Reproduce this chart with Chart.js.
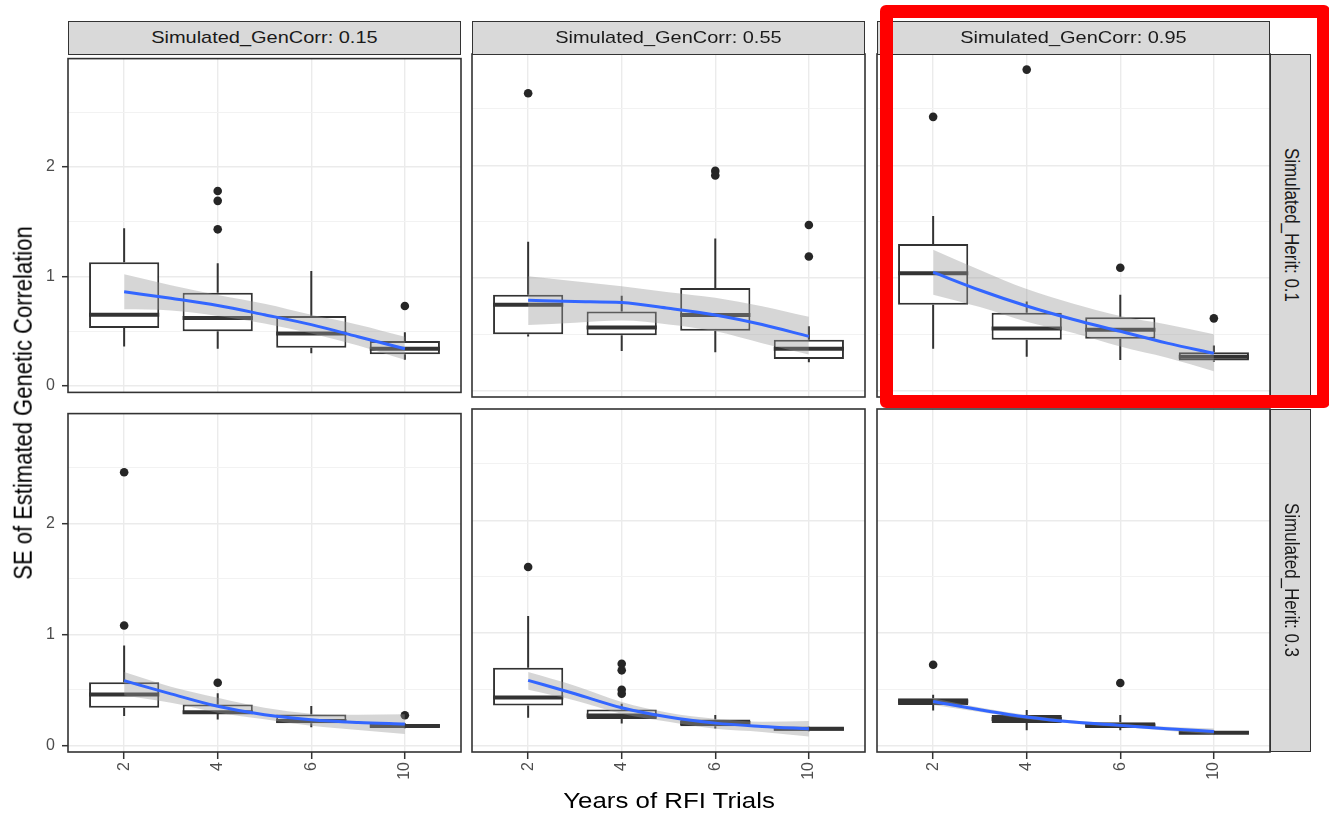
<!DOCTYPE html>
<html>
<head>
<meta charset="utf-8">
<title>SE of Estimated Genetic Correlation by Years of RFI Trials</title>
<script src="https://cdn.jsdelivr.net/npm/chart.js@4.4.1/dist/chart.umd.min.js"></script>
<style>
  html, body { margin: 0; padding: 0; background: #fff; }
  body { position: relative; width: 1329px; height: 817px; overflow: hidden;
         font-family: 'Liberation Sans', Arial, sans-serif; }
  canvas { position: absolute; }
  .strip { position: absolute; box-sizing: border-box; background: #D9D9D9;
           border: 1.4px solid #333; color: #1A1A1A; font-size: 17px;
           display: flex; align-items: center; justify-content: center; white-space: nowrap; }
  .strip span { display: inline-block; transform: scaleX(1.175); }
  .strip.side { writing-mode: vertical-rl; }
  .axis-title { position: absolute; font-size: 22px; color: #000; white-space: nowrap; }
  .highlight { position: absolute; box-sizing: border-box; border: 13px solid #FF0000; border-radius: 6px; }
</style>
</head>
<body>
<script>
// ---- data -------------------------------------------------------------
const yearLabels = ['2', '4', '6', '10'];
const genCorrLevels = ['0.15', '0.55', '0.95'];
const heritLevels = ['0.1', '0.3'];
const yTicks = [0, 0.5, 1, 1.5, 2, 2.5];

// Panels in row order: Herit 0.1 (GenCorr 0.15, 0.55, 0.95), then Herit 0.3 (same order).
// Each row holds one value per year group.
const whiskerLow = [
  [0.36, 0.34, 0.30, 0.24],
  [0.48, 0.35, 0.34, 0.25],
  [0.37, 0.30, 0.27, 0.255],
  [0.265, 0.235, 0.165, 0.155],
  [0.245, 0.195, 0.15, 0.125],
  [0.31, 0.135, 0.135, 0.10]
];
const boxLow = [
  [0.53, 0.50, 0.35, 0.29],
  [0.50, 0.49, 0.53, 0.28],
  [0.76, 0.45, 0.46, 0.265],
  [0.34, 0.285, 0.20, 0.165],
  [0.355, 0.235, 0.17, 0.13],
  [0.36, 0.20, 0.155, 0.105]
];
const medians = [
  [0.65, 0.62, 0.48, 0.34],
  [0.76, 0.56, 0.67, 0.37],
  [1.04, 0.55, 0.54, 0.30],
  [0.46, 0.30, 0.22, 0.175],
  [0.425, 0.265, 0.20, 0.148],
  [0.39, 0.235, 0.178, 0.113]
];
const boxHigh = [
  [1.13, 0.85, 0.64, 0.41],
  [0.85, 0.70, 0.91, 0.45],
  [1.30, 0.69, 0.65, 0.34],
  [0.57, 0.37, 0.28, 0.19],
  [0.69, 0.32, 0.23, 0.16],
  [0.42, 0.27, 0.205, 0.125]
];
const whiskerHigh = [
  [1.44, 1.12, 1.05, 0.49],
  [1.32, 0.84, 1.35, 0.57],
  [1.55, 0.79, 0.85, 0.40],
  [0.90, 0.47, 0.355, 0.20],
  [1.15, 0.37, 0.27, 0.165],
  [0.45, 0.315, 0.27, 0.13]
];
const outliers = [
  [[], [1.78, 1.69, 1.43], [], [0.73]],
  [[2.64], [], [1.95, 1.91], [1.47, 1.19]],
  [[2.43], [2.85], [1.09], [0.64]],
  [[2.46, 1.08], [0.565], [], [0.273]],
  [[1.585], [0.726, 0.667, 0.495, 0.459], [], []],
  [[0.717], [], [0.554], []]
];

// Smoothed trend with its confidence band, on the group axis (1 = first year group).
const smoothX = [1, 1.5, 2, 2.5, 3, 3.5, 4];
const smoothFit = [
  [0.86, 0.80, 0.735, 0.65, 0.56, 0.45, 0.34],
  [0.80, 0.79, 0.78, 0.73, 0.67, 0.585, 0.48],
  [1.05, 0.89, 0.75, 0.63, 0.525, 0.42, 0.33],
  [0.584, 0.465, 0.353, 0.276, 0.231, 0.207, 0.193],
  [0.578, 0.459, 0.335, 0.252, 0.198, 0.169, 0.148],
  [0.391, 0.317, 0.252, 0.207, 0.178, 0.148, 0.124]
];
const smoothLow = [
  [0.70, 0.69, 0.64, 0.57, 0.48, 0.37, 0.24],
  [0.58, 0.60, 0.62, 0.585, 0.525, 0.42, 0.32],
  [0.85, 0.74, 0.61, 0.51, 0.39, 0.29, 0.17],
  [0.45, 0.385, 0.296, 0.237, 0.178, 0.14, 0.104],
  [0.495, 0.40, 0.281, 0.21, 0.148, 0.12, 0.08],
  [0.36, 0.297, 0.234, 0.192, 0.163, 0.131, 0.098]
];
const smoothHigh = [
  [1.02, 0.92, 0.83, 0.75, 0.65, 0.56, 0.45],
  [1.015, 0.97, 0.925, 0.873, 0.823, 0.748, 0.654],
  [1.25, 1.07, 0.90, 0.77, 0.66, 0.585, 0.50],
  [0.661, 0.53, 0.43, 0.34, 0.287, 0.276, 0.281],
  [0.652, 0.53, 0.385, 0.29, 0.237, 0.21, 0.216],
  [0.42, 0.337, 0.27, 0.222, 0.193, 0.165, 0.15]
];

// ---- shared y range (data range plus 5% on each side) -------------------
const allValues = [whiskerLow, whiskerHigh, smoothLow, smoothHigh, outliers].flat(3);
const dataMin = Math.min(...allValues), dataMax = Math.max(...allValues);
const yMin = dataMin - 0.05 * (dataMax - dataMin);
const yMax = dataMax + 0.05 * (dataMax - dataMin);

// ---- layout -------------------------------------------------------------
const colLeft = [68, 472, 877];
const rowTop = [54, 409];
const panelW = 393, panelH = 343;
const yAxisW = 68, xAxisH = 45, margin = 12;
const halfBox = 0.375;
const ink = '#333333';

Chart.defaults.font.family = "'Liberation Sans', Arial, sans-serif";

const panelFrame = {
  id: 'panelFrame',
  afterDraw(chart) {
    const { ctx, chartArea: a } = chart;
    ctx.save();
    ctx.strokeStyle = ink;
    ctx.lineWidth = 1.6;
    ctx.strokeRect(a.left, a.top, a.right - a.left, a.bottom - a.top);
    ctx.restore();
  }
};

function addEl(cls, text, css, wrap) {
  const d = document.createElement('div');
  d.className = cls;
  if (wrap) {
    const s = document.createElement('span');
    s.textContent = text;
    d.appendChild(s);
  } else {
    d.textContent = text;
  }
  Object.assign(d.style, css);
  document.body.appendChild(d);
  return d;
}

function buildPanel(p) {
  const r = Math.floor(p / 3), c = p % 3;
  const groups = yearLabels.map((_, i) => i + 1);
  const whiskers = [], meds = [], boxes = [], pts = [];
  groups.forEach((x, i) => {
    whiskers.push({ x, y: whiskerLow[p][i] }, { x, y: boxLow[p][i] }, { x, y: null },
                  { x, y: boxHigh[p][i] }, { x, y: whiskerHigh[p][i] }, { x, y: null });
    meds.push({ x: x - halfBox, y: medians[p][i] }, { x: x + halfBox, y: medians[p][i] },
              { x: x + halfBox, y: null });
    boxes.push({ x, y: [boxLow[p][i], boxHigh[p][i]] });
    outliers[p][i].forEach(v => pts.push({ x, y: v }));
  });
  const fit = smoothX.map((x, i) => ({ x, y: smoothFit[p][i] }));
  const lo = smoothX.map((x, i) => ({ x, y: smoothLow[p][i] }));
  const hi = smoothX.map((x, i) => ({ x, y: smoothHigh[p][i] }));

  const leftSpace = c === 0 ? yAxisW : margin;
  const bottomSpace = r === 1 ? xAxisH : margin;
  const canvas = document.createElement('canvas');
  canvas.width = panelW + leftSpace + margin;
  canvas.height = panelH + margin + bottomSpace;
  canvas.style.left = (colLeft[c] - leftSpace) + 'px';
  canvas.style.top = (rowTop[r] - margin) + 'px';
  document.body.appendChild(canvas);

  const isMajor = ctx => ctx.tick && Number.isInteger(ctx.tick.value);

  new Chart(canvas, {
    type: 'line',
    data: {
      datasets: [
        { data: whiskers, borderColor: ink, borderWidth: 2, pointRadius: 0, spanGaps: false, order: 6 },
        { type: 'bar', data: boxes, backgroundColor: '#FFFFFF', borderColor: ink, borderWidth: 2,
          borderSkipped: false, barPercentage: 0.75, categoryPercentage: 1, order: 5 },
        { data: meds, borderColor: ink, borderWidth: 4, pointRadius: 0, spanGaps: false,
          borderCapStyle: 'butt', order: 4 },
        { data: pts, showLine: false, pointRadius: 4.3, pointBackgroundColor: '#262626',
          pointBorderWidth: 0, order: 3 },
        { data: hi, borderWidth: 0, pointRadius: 0, cubicInterpolationMode: 'monotone',
          fill: false, order: 2 },
        { data: lo, borderWidth: 0, pointRadius: 0, cubicInterpolationMode: 'monotone',
          fill: '-1', backgroundColor: 'rgba(153,153,153,0.4)', order: 2 },
        { data: fit, borderColor: '#3366FF', borderWidth: 3, pointRadius: 0,
          cubicInterpolationMode: 'monotone', fill: false, order: 1 }
      ]
    },
    options: {
      responsive: false,
      animation: false,
      events: [],
      layout: { autoPadding: false,
                padding: { left: c === 0 ? 0 : margin, right: margin, top: margin,
                           bottom: r === 1 ? 0 : margin } },
      plugins: { legend: { display: false }, tooltip: { enabled: false } },
      scales: {
        x: {
          type: 'linear', min: 0.4, max: 4.6, offset: false,
          afterBuildTicks: s => { s.ticks = groups.map(v => ({ value: v })); },
          afterFit: s => { s.height = r === 1 ? xAxisH : 0; },
          border: { display: false },
          grid: { color: '#EBEBEB', lineWidth: 1.4, offset: false, drawTicks: r === 1,
                  tickLength: 7, tickColor: ink, tickWidth: 1.5 },
          ticks: { display: r === 1, autoSkip: false, minRotation: 90, maxRotation: 90, padding: 3,
                   color: '#4D4D4D', font: { size: 16 },
                   callback: v => yearLabels[Math.round(v) - 1] }
        },
        y: {
          type: 'linear', min: yMin, max: yMax,
          afterBuildTicks: s => { s.ticks = yTicks.map(v => ({ value: v })); },
          afterFit: s => { s.width = c === 0 ? yAxisW : 0; },
          border: { display: false },
          grid: { color: ctx => isMajor(ctx) ? '#EBEBEB' : '#F2F2F2',
                  lineWidth: ctx => isMajor(ctx) ? 1.4 : 1,
                  drawTicks: c === 0, tickLength: 6,
                  tickColor: ctx => isMajor(ctx) ? ink : 'rgba(0,0,0,0)', tickWidth: 1.5 },
          ticks: { display: c === 0, padding: 7, color: '#4D4D4D', font: { size: 16 },
                   callback: v => Number.isInteger(v) ? String(v) : '' }
        }
      }
    },
    plugins: [panelFrame]
  });
}

for (let p = 0; p < 6; p++) buildPanel(p);

// facet strips
genCorrLevels.forEach((g, c) => addEl('strip', 'Simulated_GenCorr: ' + g,
  { left: colLeft[c] + 'px', top: '21px', width: panelW + 'px', height: '34px' }, true));
heritLevels.forEach((h, r) => addEl('strip side', 'Simulated_Herit: ' + h,
  { left: (colLeft[2] + panelW) + 'px', top: rowTop[r] + 'px', width: '41px', height: panelH + 'px' }, true));

// axis titles
addEl('axis-title', 'SE of Estimated Genetic Correlation',
  { left: '23px', top: '403px', transform: 'translate(-50%, -50%) scaleX(1.175) rotate(-90deg)' });
addEl('axis-title', 'Years of RFI Trials',
  { left: '669px', top: '801px', transform: 'translate(-50%, -50%) scaleX(1.175)' });

// highlight frame around the Herit 0.1 / GenCorr 0.95 facet
addEl('highlight', '', { left: '880px', top: '5px', width: '450px', height: '403px' });
</script>
</body>
</html>
